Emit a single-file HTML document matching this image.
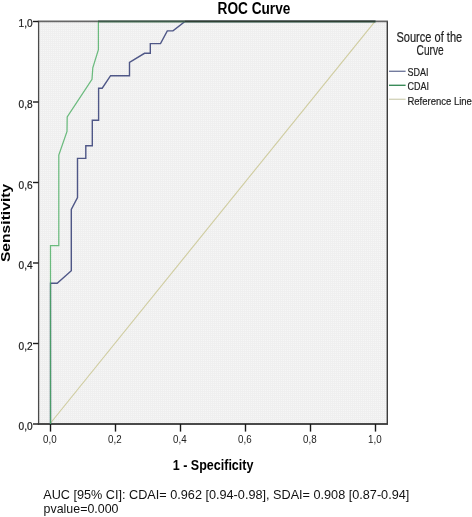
<!DOCTYPE html>
<html>
<head>
<meta charset="utf-8">
<style>
html,body{margin:0;padding:0;background:#fff;width:472px;height:517px;overflow:hidden}
svg{display:block}
text{font-family:"Liberation Sans",Arial,sans-serif}
</style>
</head>
<body>
<svg width="472" height="517" viewBox="0 0 472 517">
  <!-- title -->
  <text x="0" y="0" font-size="16" font-weight="bold" fill="#000" transform="translate(217.6,13.8) scale(0.853,1)">ROC Curve</text>

  <!-- plot background -->
  <defs><pattern id="dots" patternUnits="userSpaceOnUse" x="1" y="0" width="2" height="2"><rect width="2" height="2" fill="#efefef"/><rect width="1" height="1" fill="#f6f6f6"/></pattern></defs>
  <rect x="39" y="22" width="348" height="402" fill="url(#dots)"/>

  <!-- reference line -->
  <line x1="49.8" y1="424" x2="374.6" y2="21.8" stroke="#cfcc9f" stroke-width="1.1"/>

  <!-- frame -->
  <g stroke="#4a4a4a" fill="none">
    <line x1="37.8" y1="21.4" x2="388" y2="21.4" stroke-width="1.9" stroke="#666"/>
    <line x1="37.8" y1="424" x2="388" y2="424" stroke-width="2"/>
    <line x1="38.6" y1="21.5" x2="38.6" y2="423.9" stroke-width="1.3"/>
    <line x1="387.3" y1="21.5" x2="387.3" y2="423.9" stroke-width="1.4" stroke="#3c3c3c"/>
  </g>

  <!-- SDAI -->
  <polyline fill="none" stroke="#4f5787" stroke-width="1.4" stroke-linejoin="miter"
    points="50.5,424 50.5,283.3 57.2,283.3 71.3,270.7 71.3,209.5 77.5,197.5 77.5,158.4 85.8,158.4 85.8,145.8 92.3,145.8 92.3,120.3 98.6,120.3 98.6,88.2 102.2,88.2 110.6,75.7 129.5,75.7 129.5,62.3 144.5,53.3 150.3,53.3 150.3,43.6 160.5,43.6 167.3,30.9 173,30.9 185,21.5 375.5,21.5"/>

  <!-- CDAI -->
  <polyline fill="none" stroke="#48ad60" stroke-opacity="0.8" stroke-width="1.25" stroke-linejoin="miter"
    points="50.5,424 50.5,245.5 58.8,245.5 58.8,155 67,131.4 67.2,116.9 92,79.3 92.8,67.8 98.4,49.7 98.4,21.5 375.5,21.5"/>

  <!-- top overlap -->
  <line x1="98" y1="21.4" x2="185" y2="21.4" stroke="#3e5a4a" stroke-width="1.9"/>
  <line x1="185" y1="21.4" x2="375.5" y2="21.4" stroke="#2e3f33" stroke-width="1.9"/>
  <!-- y ticks -->
  <g stroke="#1a1a1a" stroke-width="1.4">
    <line x1="33" y1="21.5" x2="38.5" y2="21.5"/>
    <line x1="33" y1="102" x2="38.5" y2="102"/>
    <line x1="33" y1="182.5" x2="38.5" y2="182.5"/>
    <line x1="33" y1="263" x2="38.5" y2="263"/>
    <line x1="33" y1="343.5" x2="38.5" y2="343.5"/>
    <line x1="33" y1="424" x2="38.5" y2="424"/>
  </g>
  <!-- x ticks -->
  <g stroke="#1a1a1a" stroke-width="1.4">
    <line x1="50.5" y1="424" x2="50.5" y2="431.6"/>
    <line x1="115.5" y1="424" x2="115.5" y2="431.6"/>
    <line x1="180.5" y1="424" x2="180.5" y2="431.6"/>
    <line x1="245.5" y1="424" x2="245.5" y2="431.6"/>
    <line x1="310.5" y1="424" x2="310.5" y2="431.6"/>
    <line x1="375.5" y1="424" x2="375.5" y2="431.6"/>
  </g>

  <!-- y tick labels -->
  <g font-size="11.5" fill="#1c1c1c" stroke="#1c1c1c" stroke-width="0.25">
    <text transform="translate(32.6,26.7) scale(0.88,1)" text-anchor="end">1,0</text>
    <text transform="translate(32.6,108.2) scale(0.88,1)" text-anchor="end">0,8</text>
    <text transform="translate(32.6,188.7) scale(0.88,1)" text-anchor="end">0,6</text>
    <text transform="translate(32.6,269.2) scale(0.88,1)" text-anchor="end">0,4</text>
    <text transform="translate(32.6,349.7) scale(0.88,1)" text-anchor="end">0,2</text>
    <text transform="translate(32.6,430.2) scale(0.88,1)" text-anchor="end">0,0</text>
  </g>
  <!-- x tick labels -->
  <g font-size="11.5" fill="#222" text-anchor="middle">
    <text transform="translate(49.9,443.2) scale(0.85,1)">0,0</text>
    <text transform="translate(114.9,443.2) scale(0.85,1)">0,2</text>
    <text transform="translate(179.9,443.2) scale(0.85,1)">0,4</text>
    <text transform="translate(244.9,443.2) scale(0.85,1)">0,6</text>
    <text transform="translate(309.9,443.2) scale(0.85,1)">0,8</text>
    <text transform="translate(374.9,443.2) scale(0.85,1)">1,0</text>
  </g>

  <!-- axis titles -->
  <text font-size="15" font-weight="bold" fill="#000" transform="translate(172.8,470.1) scale(0.835,1)">1 - Specificity</text>
  <text font-size="15" font-weight="bold" fill="#000" transform="translate(10.3,262.1) scale(0.84,1) rotate(-90)" textLength="78.3" lengthAdjust="spacingAndGlyphs">Sensitivity</text>

  <!-- legend -->
  <g fill="#1e1e1e" stroke="#1e1e1e" stroke-width="0.2">
    <text font-size="14" text-anchor="middle" transform="translate(429.3,41.5) scale(0.79,1)">Source of the</text>
    <text font-size="14" text-anchor="middle" transform="translate(430.1,54.6) scale(0.725,1)">Curve</text>
    <text font-size="11" transform="translate(407.4,76) scale(0.82,1)">SDAI</text>
    <text font-size="11" transform="translate(407.4,90.1) scale(0.82,1)">CDAI</text>
    <text font-size="11" transform="translate(407.4,104.6) scale(0.866,1)">Reference Line</text>
  </g>
  <line x1="389" y1="71.3" x2="405.6" y2="71.3" stroke="#737b9e" stroke-width="1.4"/>
  <line x1="389" y1="85.3" x2="405.6" y2="85.3" stroke="#3a8c5a" stroke-width="1.4"/>
  <line x1="389" y1="99.3" x2="405.6" y2="99.3" stroke="#d4d4bc" stroke-width="1.4"/>

  <!-- footer -->
  <g font-size="12" fill="#111">
    <text transform="translate(43.2,499) scale(1.057,1)">AUC [95% CI]: CDAI= 0.962 [0.94-0.98], SDAI= 0.908 [0.87-0.94]</text>
    <text transform="translate(43.6,513) scale(1.035,1)">pvalue=0.000</text>
  </g>
</svg>
</body>
</html>
